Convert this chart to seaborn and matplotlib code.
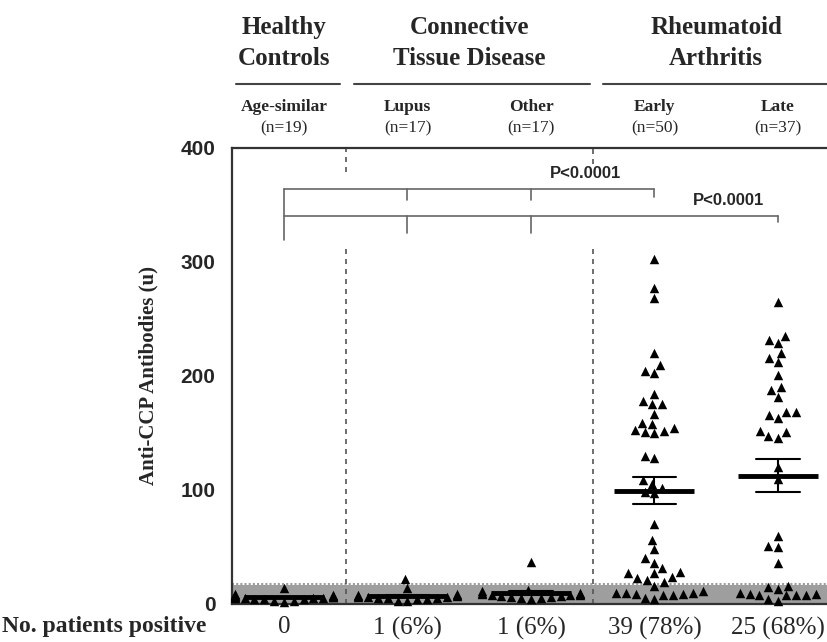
import pandas as pd
import seaborn as sns
import matplotlib.pyplot as plt

# subgroups along the x axis
groups = ["Age-similar", "Lupus", "Other", "Early", "Late"]
group_n = ["(n=19)", "(n=17)", "(n=17)", "(n=50)", "(n=37)"]
positive = ["0", "1 (6%)", "1 (6%)", "39 (78%)", "25 (68%)"]
headers = ["Healthy\nControls", "Connective\nTissue Disease", "Rheumatoid\nArthritis"]
header_pos = [0, 1.5, 3.5]
cutoff = 17

# anti-CCP values (u)
healthy = [14, 9, 8, 8, 7, 7, 6, 6, 6, 5, 5, 5, 5, 4, 4, 4, 3, 3, 2]
lupus = [22, 14, 9, 8, 8, 7, 7, 6, 6, 6, 5, 5, 5, 4, 4, 3, 3]
other = [37, 12, 11, 10, 10, 9, 9, 8, 8, 8, 7, 7, 6, 6, 5, 5, 4]
early = [303, 277, 268, 220, 210, 204, 203, 184, 178, 175, 175, 167, 159, 158,
         154, 153, 152, 151, 150, 130, 128, 109, 105, 102, 98, 97,
         70, 56, 48, 40, 36, 32, 28, 27, 27, 24, 23, 21, 19, 16,
         11, 10, 10, 10, 9, 9, 8, 8, 5, 4]
late = [265, 235, 232, 229, 220, 216, 212, 201, 190, 188, 182, 168, 168, 166,
        163, 152, 151, 147, 146, 120, 110, 60, 51, 50, 36, 16, 15, 13,
        10, 9, 9, 8, 8, 8, 8, 4, 3]

values = [healthy, lupus, other, early, late]
df = pd.DataFrame({
    "group": [g for g, v in zip(groups, values) for _ in v],
    "value": [x for v in values for x in v],
})

sns.set_style("white")
plt.rcParams["font.family"] = ["Liberation Serif", "DejaVu Serif"]
sans = "Liberation Sans"

fig = plt.figure(figsize=(8.27, 6.42), dpi=100)
ax = fig.add_axes([0.2805, 0.0592, 0.7195, 0.7103])

# gray cutoff band
ax.axhspan(0, cutoff, color="#9e9e9e", lw=0, zorder=0)
ax.axhline(cutoff + 0.5, color="#9e9e9e", ls=(0, (1, 1)), lw=1.5, zorder=0)

sns.swarmplot(data=df, x="group", y="value", order=groups, marker="^",
              color="black", size=6.8, linewidth=0, ax=ax, zorder=3)
for coll in ax.collections:
    coll.set_clip_on(False)
sns.pointplot(data=df, x="group", y="value", order=groups, errorbar="se",
              color="black", linestyle="none", marker="_", markersize=58,
              markeredgewidth=3.5, capsize=0.35, err_kws={"linewidth": 1.5},
              ax=ax, zorder=4)

ax.set_xlim(-0.421, 4.397)
ax.set_ylim(0, 400)
ax.set_yticks([0, 100, 200, 300, 400])
ax.set_yticklabels(["0", "100", "200", "300", "400"], fontfamily=sans,
                   fontweight="bold", fontsize=15)
ax.set_xticks(range(5))
ax.set_xticklabels(positive, fontsize=18)
ax.tick_params(axis="y", length=0, pad=12)
ax.tick_params(axis="x", length=0, pad=9)
ax.set_xlabel("")
ax.set_ylabel("Anti-CCP Antibodies (u)", fontsize=15, fontweight="bold", labelpad=16)

for s in ["left", "top", "bottom"]:
    ax.spines[s].set_color("#333333")
    ax.spines[s].set_linewidth(1.6)
ax.spines["right"].set_visible(False)

# dashed separators, broken where the brackets are
for xs, top_from in [(0.5, 379), (2.5, 386)]:
    ax.plot([xs, xs], [0, 315], ls=(0, (3, 3)), color="#555555", lw=1.2, zorder=2)
    ax.plot([xs, xs], [top_from, 400], ls=(0, (3, 3)), color="#555555", lw=1.2, zorder=2)

# significance brackets
bc = "#666666"
ax.plot([0, 0], [319, 364], color=bc, lw=1.2)
ax.plot([0, 3], [364, 364], color=bc, lw=1.2)
for xb in [1, 2]:
    ax.plot([xb, xb], [364, 354], color=bc, lw=1.2)
ax.plot([3, 3], [364, 357], color=bc, lw=1.2)
ax.plot([0, 4], [340, 340], color=bc, lw=1.2)
for xb in [1, 2]:
    ax.plot([xb, xb], [340, 325], color=bc, lw=1.2)
ax.plot([4, 4], [340, 335], color=bc, lw=1.2)
ax.text(2.44, 378, "P<0.0001", ha="center", va="center", fontfamily=sans,
        fontweight="bold", fontsize=12)
ax.text(3.6, 354, "P<0.0001", ha="center", va="center", fontfamily=sans,
        fontweight="bold", fontsize=12)

# column headers above the plot
for h, xp in zip(headers, header_pos):
    ax.text(xp, 492, h, ha="center", va="center", fontsize=18, fontweight="bold",
            linespacing=1.4, clip_on=False)
for x0, x1 in [(-0.39, 0.45), (0.57, 2.48), (2.58, 4.4)]:
    ax.plot([x0, x1], [456, 456], color="#444444", lw=1.5, clip_on=False)
for i, (g, n) in enumerate(zip(groups, group_n)):
    ax.text(i, 436, g, ha="center", va="center", fontsize=12.5, fontweight="bold",
            clip_on=False)
    ax.text(i, 417, n, ha="center", va="center", fontsize=12.5, clip_on=False)

fig.text(0.003, 0.0234, "No. patients positive", ha="left", va="center",
         fontsize=17, fontweight="bold")

plt.savefig("out.png", dpi=100)
